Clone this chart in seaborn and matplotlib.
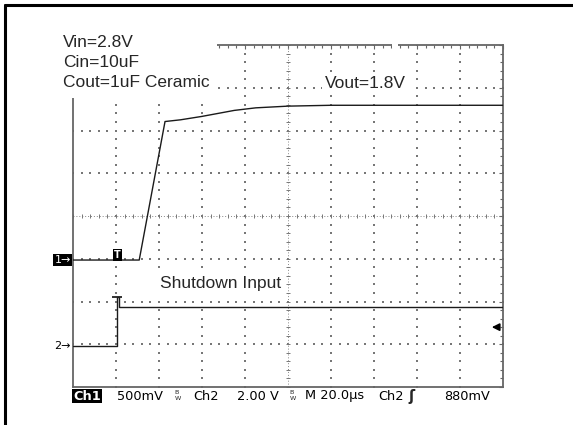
import matplotlib
matplotlib.use("Agg")
import matplotlib.pyplot as plt
from matplotlib.lines import Line2D
from matplotlib.patches import Rectangle
import numpy as np
import pandas as pd
import seaborn as sns

# scope settings
ch1_scale = 0.5    # V/div
ch2_scale = 2.0    # V/div
time_div = 20.0    # us/div
ch1_offset = -1.03  # div (ground marker position)
ch2_offset = -3.04
trig_time = 20.6
trig_level = 0.88  # V on ch2

# Ch1: Vout
ch1_t = [0, 30.8, 42.8, 50, 60, 75, 85, 100, 120, 200]
ch1_v = [0, 0, 1.62, 1.64, 1.68, 1.75, 1.78, 1.80, 1.81, 1.81]
# Ch2: shutdown input
ch2_t = [0, 20.6, 20.6, 21.3, 21.3, 200]
ch2_v = [0, 0, 2.3, 2.3, 1.8, 1.8]

status = [("Ch1", 73), ("500mV", 117), ("Ch2", 193), ("2.00 V", 237),
          ("M 20.0\u00b5s", 305), ("Ch2", 378), ("880mV", 444)]

W, H = 573, 425
sns.set_style("white")
plt.rcParams['font.family'] = ['Liberation Sans', 'DejaVu Sans']
fig = plt.figure(figsize=(W / 100, H / 100), dpi=100)
ax = fig.add_axes([73 / W, 1 - 387 / H, 430 / W, 342 / H])

df = pd.concat([
    pd.DataFrame({"t": ch1_t, "div": np.array(ch1_v) / ch1_scale + ch1_offset, "ch": "Ch1"}),
    pd.DataFrame({"t": ch2_t, "div": np.array(ch2_v) / ch2_scale + ch2_offset, "ch": "Ch2"}),
])
sns.lineplot(data=df, x="t", y="div", units="ch", estimator=None, sort=False,
             color="#1a1a1a", lw=1.0, ax=ax, zorder=4)

ax.set_xlim(0, 10 * time_div)
ax.set_ylim(-4, 4)
ax.set_xticks(np.arange(0, 201, 20))
ax.set_xticks(np.arange(0, 201, 4), minor=True)
ax.set_yticks(np.arange(-4, 5, 1))
ax.set_yticks(np.arange(-4, 4.01, 0.2), minor=True)
ax.tick_params(which='both', direction='in', top=True, right=True,
               labelbottom=False, labelleft=False, color='#666666', width=0.8)
ax.tick_params(which='major', length=3)
ax.tick_params(which='minor', length=2.5)
ax.set_xlabel("")
ax.set_ylabel("")
for s in ax.spines.values():
    s.set_color('#666666')
    s.set_linewidth(1.3)

# graticule dots
mx = np.arange(0, 201, 4)
my = np.arange(-4, 4.01, 0.2)
for gx in np.arange(20, 200, 20):
    if gx == 100:
        continue
    ax.scatter(np.full_like(my, gx), my, s=0.9, marker='s', color='#777777', lw=0, zorder=2)
for gy in range(-3, 4):
    if gy == 0:
        continue
    ax.scatter(mx, np.full_like(mx, gy, dtype=float), s=0.9, marker='s', color='#777777', lw=0, zorder=2)
# center cross
ax.axhline(0, color='#888888', lw=0.7, ls=(0, (1, 2)), zorder=2)
ax.axvline(100, color='#888888', lw=0.7, ls=(0, (1, 2)), zorder=2)
ax.scatter(mx, np.zeros_like(mx, dtype=float), marker='|', s=10, color='#777777', lw=0.7, zorder=2)
ax.scatter(np.full_like(my, 100), my, marker='_', s=10, color='#777777', lw=0.7, zorder=2)

# markers
ax.plot([trig_time], [2.3 / ch2_scale + ch2_offset], marker='_', ms=7, mew=1.3, color='#222222', zorder=5)
ax.text(trig_time, ch1_offset, "T", color='white', fontsize=7, fontweight='bold', ha='center', va='bottom',
        family='DejaVu Sans', bbox=dict(fc='black', ec='none', pad=0.8), zorder=6)
ax.annotate("1\u2192", xy=(0, ch1_offset), xycoords=('axes fraction', 'data'), xytext=(-1.5, 0),
            textcoords='offset points', ha='right', va='center', fontsize=8, color='white',
            family='DejaVu Sans', bbox=dict(fc='black', ec='none', pad=0.8), annotation_clip=False)
ax.annotate("2\u2192", xy=(0, ch2_offset), xycoords=('axes fraction', 'data'), xytext=(-1.5, 0),
            textcoords='offset points', ha='right', va='center', fontsize=8, color='black',
            family='DejaVu Sans', annotation_clip=False)
lvl = trig_level / ch2_scale + ch2_offset
ax.annotate("", xy=(193.5, lvl), xytext=(198.5, lvl),
            arrowprops=dict(arrowstyle='-|>', color='black', lw=1.2, mutation_scale=11))

# white masks: setup text area and the small gap in the top edge
fig.add_artist(Rectangle((60 / W, 1 - 98 / H), 157 / W, 70 / H, transform=fig.transFigure,
                         fc='white', ec='none', zorder=3))
fig.add_artist(Rectangle((392 / W, 1 - 48 / H), 6 / W, 6 / H, transform=fig.transFigure,
                         fc='white', ec='none', zorder=3))
for txt, base in [("Vin=2.8V", 46.7), ("Cin=10uF", 66.7), ("Cout=1uF Ceramic", 87.3)]:
    fig.text(63 / W, 1 - base / H, txt, fontsize=12.5, va='baseline', zorder=4)
fig.text(325 / W, 1 - 88 / H, "Vout=1.8V", fontsize=12.5, va='baseline', zorder=4,
         bbox=dict(fc='white', ec='none', pad=2))
fig.text(160 / W, 1 - 288 / H, "Shutdown Input", fontsize=12.5, va='baseline', zorder=4,
         bbox=dict(fc='white', ec='none', pad=2))

# status line
for txt, x in status:
    kw = dict(fontsize=9.3, family='DejaVu Sans', va='center', ha='left')
    if txt == "Ch1":
        fig.text(x / W, 1 - 396 / H, txt, color='white', fontweight='bold',
                 bbox=dict(fc='black', ec='none', pad=0.6), **kw)
    else:
        fig.text(x / W, 1 - 396 / H, txt, color='black', **kw)
for x in (174, 289):
    fig.text(x / W, 1 - 396 / H, r"$^\mathrm{B}_\mathrm{W}$", fontsize=6.5, va='center', family='DejaVu Sans')
fig.text(408 / W, 1 - 397 / H, "\u0283", fontsize=10.5, va='center', family='DejaVu Sans', fontweight='bold')

# outer frame
fig.add_artist(Line2D([5 / W, 1], [1 - 5 / H, 1 - 5 / H], color='black', lw=2.2))
fig.add_artist(Line2D([5 / W, 5 / W], [0, 1 - 5 / H], color='black', lw=2.2))

fig.savefig("out.png", dpi=100, facecolor='white')
